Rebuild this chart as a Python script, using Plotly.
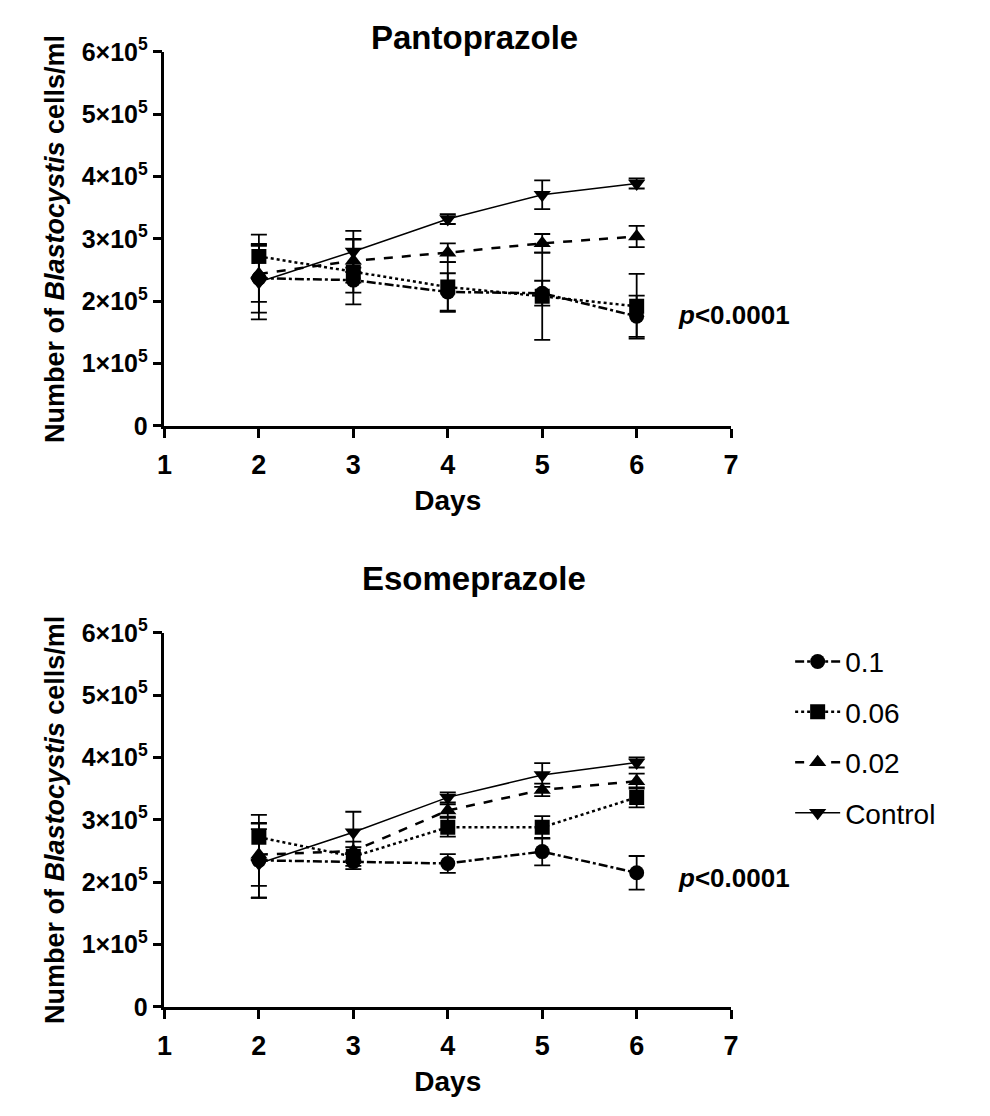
import plotly.graph_objects as go

days = [2, 3, 4, 5, 6]
series_names = ["0.1", "0.06", "0.02", "Control"]

# Pantoprazole (cells/ml)
panto_01 = [237000, 234000, 215000, 213000, 176000]
panto_01_err = [55000, 20000, 30000, 20000, 33000]
panto_006 = [272000, 247000, 223000, 208000, 192000]
panto_006_err = [35000, 52000, 40000, 70000, 52000]
panto_002 = [244000, 265000, 278000, 293000, 304000]
panto_002_err = [45000, 35000, 15000, 15000, 17000]
panto_ctrl = [231000, 280000, 332000, 371000, 389000]
panto_ctrl_err = [60000, 33000, 8000, 23000, 8000]

# Esomeprazole (cells/ml)
eso_01 = [235000, 233000, 230000, 249000, 215000]
eso_01_err = [60000, 12000, 15000, 22000, 27000]
eso_006 = [272000, 241000, 288000, 288000, 336000]
eso_006_err = [36000, 15000, 15000, 18000, 16000]
eso_002 = [244000, 250000, 315000, 348000, 362000]
eso_002_err = [50000, 15000, 10000, 10000, 12000]
eso_ctrl = [230000, 280000, 336000, 372000, 392000]
eso_ctrl_err = [55000, 33000, 8000, 19000, 8000]

y_tickvals = [0, 100000, 200000, 300000, 400000, 500000, 600000]
y_ticktext = ["<b>0</b>"] + ["<b>%d×10<sup>5</sup></b>" % i for i in range(1, 7)]
x_tickvals = [1, 2, 3, 4, 5, 6, 7]

styles = [
    dict(symbol="circle", dash="dashdot", width=2.5),
    dict(symbol="square", dash="dot", width=2.5),
    dict(symbol="triangle-up", dash="dash", width=2.5),
    dict(symbol="triangle-down", dash="solid", width=1.5),
]

FONT = "Arial, Liberation Sans, sans-serif"
fig = go.Figure()

panto = [(panto_01, panto_01_err), (panto_006, panto_006_err),
         (panto_002, panto_002_err), (panto_ctrl, panto_ctrl_err)]
eso = [(eso_01, eso_01_err), (eso_006, eso_006_err),
       (eso_002, eso_002_err), (eso_ctrl, eso_ctrl_err)]

for panel, (data, xa, ya) in enumerate([(panto, "x", "y"), (eso, "x2", "y2")]):
    for i, ((vals, errs), st) in enumerate(zip(data, styles)):
        fig.add_trace(go.Scatter(
            x=days, y=vals, xaxis=xa, yaxis=ya,
            mode="lines+markers",
            name=series_names[i],
            legendgroup=series_names[i],
            showlegend=(panel == 1),
            line=dict(color="black", width=st["width"], dash=st["dash"]),
            marker=dict(symbol=st["symbol"], size=15, color="black"),
            error_y=dict(type="data", array=errs, visible=True,
                         color="black", thickness=1.8, width=8),
        ))

axis_common = dict(
    showgrid=False, zeroline=False, showline=True, linecolor="black",
    linewidth=2.5, ticks="outside", tickwidth=2.5, ticklen=9,
    tickcolor="black", mirror=False,
)

def xaxis_def(anchor):
    return dict(domain=[159 / 990, 735 / 990], range=[1, 7], tickvals=x_tickvals,
                ticktext=["<b>%d</b>" % v for v in x_tickvals],
                tickfont=dict(size=27), anchor=anchor, ticklabelstandoff=4,
                title=dict(text="<b>Days</b>", font=dict(size=28), standoff=12),
                **axis_common)

def yaxis_def(anchor, top_px, bottom_px):
    return dict(domain=[1 - bottom_px / 1116, 1 - top_px / 1116], range=[0, 600000],
                tickvals=y_tickvals, ticktext=y_ticktext, tickfont=dict(size=25),
                anchor=anchor,
                title=dict(text="<b>Number of <i>Blastocystis</i> cells/ml</b>",
                           font=dict(size=27), standoff=10),
                **axis_common)

fig.update_layout(
    width=990, height=1116,
    margin=dict(l=0, r=0, t=0, b=0),
    paper_bgcolor="white", plot_bgcolor="white",
    font=dict(family=FONT, color="black"),
    xaxis=xaxis_def("y"),
    yaxis=yaxis_def("x", 35, 420),
    xaxis2=xaxis_def("y2"),
    yaxis2=yaxis_def("x2", 633, 1018),
    legend=dict(x=795 / 990, y=1 - 637 / 1116, xanchor="left", yanchor="top",
                font=dict(size=28, family=FONT), traceorder="grouped",
                tracegroupgap=11, itemwidth=45, bgcolor="rgba(0,0,0,0)"),
    annotations=[
        dict(text="<b>Pantoprazole</b>", x=474 / 990, y=1 - 20 / 1116, xref="paper",
             yref="paper", showarrow=False, font=dict(size=33), yanchor="middle"),
        dict(text="<b>Esomeprazole</b>", x=474 / 990, y=1 - 577 / 1116, xref="paper",
             yref="paper", showarrow=False, font=dict(size=33), yanchor="middle"),
        dict(text="<b><i>p</i>&lt;0.0001</b>", x=6.42, y=178000, xref="x", yref="y",
             showarrow=False, xanchor="left", font=dict(size=26)),
        dict(text="<b><i>p</i>&lt;0.0001</b>", x=6.42, y=206000, xref="x2", yref="y2",
             showarrow=False, xanchor="left", font=dict(size=26)),
    ],
)

fig.write_html("out.html")
